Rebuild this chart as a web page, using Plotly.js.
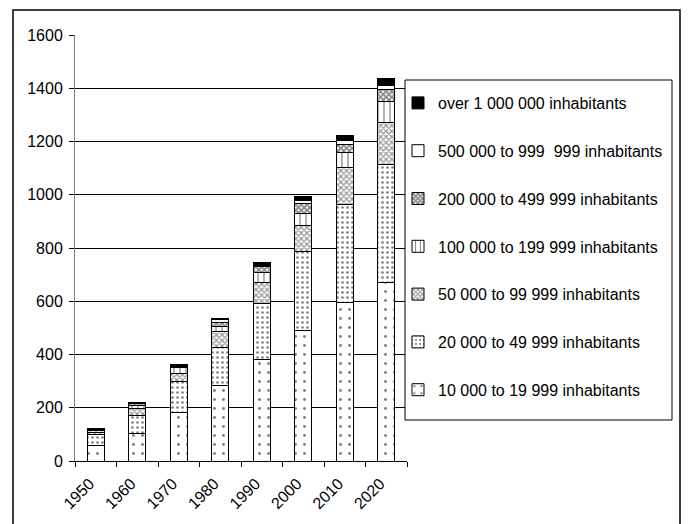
<!DOCTYPE html>
<html>
<head>
<meta charset="utf-8">
<script src="https://cdn.plot.ly/plotly-3.0.1.min.js"></script>
<style>
  html, body { margin: 0; padding: 0; background: #fff; }
  #chart { width: 688px; height: 524px; }
</style>
</head>
<body>
<div id="chart"></div>
<script>
var years = ['1950', '1960', '1970', '1980', '1990', '2000', '2010', '2020'];
var seriesNames = [
  '10 000 to 19 999 inhabitants',
  '20 000 to 49 999 inhabitants',
  '50 000 to 99 999 inhabitants',
  '100 000 to 199 999 inhabitants',
  '200 000 to 499 999 inhabitants',
  '500 000 to 999\u00a0 999 inhabitants',
  'over 1 000 000 inhabitants'
];
var s10k   = [60, 105, 184, 282, 383, 492, 595, 669];
var s20k   = [38, 67, 113, 146, 210, 293, 370, 446];
var s50k   = [10, 24, 30, 57, 77, 101, 139, 156];
var s100k  = [6, 12, 23, 22, 37, 45, 56, 81];
var s200k  = [3, 7, 6, 15, 22, 38, 27, 45];
var s500k  = [2, 3, 4, 8, 6, 8, 15, 15];
var s1m    = [2, 3, 4, 7, 9, 15, 22, 23];
var seriesValues = [s10k, s20k, s50k, s100k, s200k, s500k, s1m];

var patterns = [
  {shape: '.', size: 9, solidity: 0.08, fgcolor: '#000', bgcolor: '#fff', fillmode: 'overlay'},
  {shape: '.', size: 5, solidity: 0.22, fgcolor: '#000', bgcolor: '#fff', fillmode: 'overlay'},
  {shape: 'x', size: 4, solidity: 0.55, fgcolor: '#333', bgcolor: '#fff', fillmode: 'overlay'},
  {shape: '|', size: 6, solidity: 0.2, fgcolor: '#000', bgcolor: '#fff', fillmode: 'overlay'},
  {shape: 'x', size: 4, solidity: 0.7, fgcolor: '#111', bgcolor: '#fff', fillmode: 'overlay'},
  null,
  null
];
var colors = ['#fff', '#fff', '#fff', '#fff', '#fff', '#fff', '#000'];

var traces = seriesNames.map(function (name, i) {
  var marker = {color: colors[i], line: {color: '#000', width: 1}};
  if (patterns[i]) marker.pattern = patterns[i];
  return {
    type: 'bar',
    name: name,
    x: years,
    y: seriesValues[i],
    width: 0.42,
    marker: marker,
    legendgroup: 'g' + i,
    legendrank: seriesNames.length - i,
    hoverinfo: 'x+y+name'
  };
});

// plot area: x 75..407, y 35..461
var L = 75, R = 407, T = 35, B = 461;
function px(x) { return (x - L) / (R - L); }
function py(y) { return (B - y) / (B - T); }

var FONT = 'Liberation Sans, Arial, sans-serif';

var layout = {
  width: 688,
  height: 524,
  margin: {l: L, r: 688 - R, t: T, b: 524 - B, pad: 0},
  paper_bgcolor: '#fff',
  plot_bgcolor: '#fff',
  barmode: 'stack',
  font: {family: FONT, size: 16, color: '#000'},
  showlegend: true,
  legend: {
    x: px(398), y: py(86), xanchor: 'left', yanchor: 'top',
    bgcolor: 'rgba(0,0,0,0)', borderwidth: 0,
    traceorder: 'grouped',
    tracegroupgap: 24,
    font: {family: FONT, size: 16, color: '#000'},
    itemwidth: 30
  },
  xaxis: {
    type: 'category',
    showgrid: false,
    showline: true, linecolor: '#000', linewidth: 1,
    ticks: 'outside', ticklen: 5, tickcolor: '#000',
    tickson: 'boundaries',
    tickangle: -45,
    ticklabelshift: -6,
    ticklabelstandoff: 6,
    tickfont: {family: FONT, size: 16},
    fixedrange: true
  },
  yaxis: {
    range: [0, 1600],
    dtick: 200,
    showgrid: true, gridcolor: '#000', gridwidth: 1,
    zeroline: false,
    showline: true, linecolor: '#808080', linewidth: 1,
    ticks: 'outside', ticklen: 5, tickcolor: '#000',
    ticklabelstandoff: 3,
    tickfont: {family: FONT, size: 16},
    fixedrange: true
  },
  shapes: [
    {
      type: 'rect', xref: 'paper', yref: 'paper',
      x0: px(13), x1: px(680), y0: py(540), y1: py(10),
      line: {color: '#000', width: 1.5}, fillcolor: 'rgba(0,0,0,0)', layer: 'below'
    },
    {
      type: 'rect', xref: 'paper', yref: 'paper',
      x0: px(405), x1: px(672), y0: py(420), y1: py(80),
      line: {color: '#000', width: 1}, fillcolor: '#fff', layer: 'above'
    }
  ]
};

Plotly.newPlot('chart', traces, layout, {displayModeBar: false, staticPlot: true});
</script>
</body>
</html>
